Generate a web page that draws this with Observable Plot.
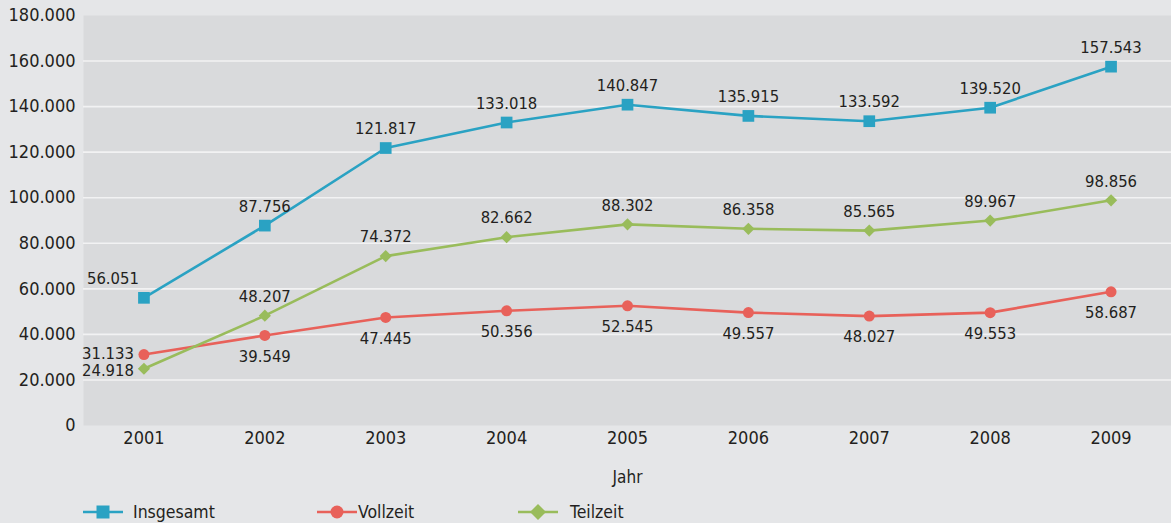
<!DOCTYPE html>
<html><head><meta charset="utf-8">
<script src="https://cdn.jsdelivr.net/npm/d3@7"></script>
<script src="https://cdn.jsdelivr.net/npm/@observablehq/plot@0.6"></script>
<style>
html,body{margin:0;padding:0;background:#e5e6e8;width:1171px;height:523px;overflow:hidden;font-family:"DejaVu Sans Condensed","Liberation Sans",sans-serif;color:#231f20;}
#legend{position:relative;height:30px;font-size:17.5px;margin-top:4px;}
#legend .item{position:absolute;top:0;height:30px;display:flex;align-items:center;}
#legend svg{display:block}
</style></head>
<body>
<div id="chart"></div>
<div id="legend"></div>
<script>
const years = ["2001","2002","2003","2004","2005","2006","2007","2008","2009"];
const insgesamt = [56051, 87756, 121817, 133018, 140847, 135915, 133592, 139520, 157543];
const vollzeit = [31133, 39549, 47445, 50356, 52545, 49557, 48027, 49553, 58687];
const teilzeit = [24918, 48207, 74372, 82662, 88302, 86358, 85565, 89967, 98856];
const seriesNames = ["Insgesamt", "Vollzeit", "Teilzeit"];
const yTicks = [0, 20000, 40000, 60000, 80000, 100000, 120000, 140000, 160000, 180000];

const colors = {Insgesamt: "#2aa2c3", Vollzeit: "#e8615a", Teilzeit: "#99bc5b"};
const symbols = {Insgesamt: "square", Vollzeit: "circle", Teilzeit: "diamond2"};
const radii = {Insgesamt: 6.6, Vollzeit: 5.5, Teilzeit: 5.5};

const de = d3.formatLocale({decimal: ",", thousands: ".", grouping: [3], currency: ["", " €"]});
const fmt = de.format(",d");

const rows = [];
const valuesBy = {Insgesamt: insgesamt, Vollzeit: vollzeit, Teilzeit: teilzeit};
for (const s of seriesNames) years.forEach((y, i) => rows.push({series: s, year: y, value: valuesBy[s][i]}));

const textColor = "#231f20";
const labelFont = 16.5;
const isFirst = d => d.year === years[0];

const marks = [
  Plot.frame({fill: "#d9dadc", stroke: null}),
  Plot.gridY(yTicks.filter(v => v > 0 && v < 180000), {stroke: "#f2f2f3", strokeOpacity: 1, strokeWidth: 1.6}),
  Plot.axisY({ticks: yTicks, tickSize: 0, tickPadding: 8, tickFormat: fmt, fontSize: 18, label: null, fill: textColor}),
  Plot.axisX({tickSize: 0, tickPadding: 6, fontSize: 18, label: null, fill: textColor}),
  Plot.text(["Jahr"], {frameAnchor: "bottom", dy: 57, fontSize: 17, fill: textColor}),
];
for (const s of seriesNames) {
  const data = rows.filter(d => d.series === s);
  marks.push(Plot.line(data, {x: "year", y: "value", stroke: colors[s], strokeWidth: 2.6}));
  marks.push(Plot.dot(data, {x: "year", y: "value", fill: colors[s], symbol: symbols[s], r: radii[s], stroke: null}));
}
// labels
const ins = rows.filter(d => d.series === "Insgesamt");
const vol = rows.filter(d => d.series === "Vollzeit");
const tei = rows.filter(d => d.series === "Teilzeit");
const lbl = {x: "year", y: "value", text: d => fmt(d.value), fontSize: labelFont, fill: textColor};
marks.push(Plot.text(ins.filter(d => !isFirst(d)), {...lbl, dy: -19}));
marks.push(Plot.text(ins.filter(isFirst), {...lbl, dy: -19, dx: -31}));
marks.push(Plot.text(vol.filter(d => !isFirst(d)), {...lbl, dy: 21}));
marks.push(Plot.text(vol.filter(isFirst), {...lbl, dx: -10, dy: -1, textAnchor: "end"}));
marks.push(Plot.text(tei.filter(d => !isFirst(d)), {...lbl, dy: -19}));
marks.push(Plot.text(tei.filter(isFirst), {...lbl, dx: -10, dy: 2, textAnchor: "end"}));

const chart = Plot.plot({
  width: 1171,
  height: 493,
  marginLeft: 83,
  marginRight: 0,
  marginTop: 15,
  marginBottom: 68,
  style: {background: "transparent", fontFamily: '"DejaVu Sans Condensed","Liberation Sans",sans-serif', color: textColor, overflow: "visible"},
  x: {type: "point", domain: years, padding: 0.5, round: false},
  y: {domain: [0, 180000]},
  marks
});
document.getElementById("chart").appendChild(chart);

// legend
const legend = document.getElementById("legend");
const legendPos = {Insgesamt: 83, Vollzeit: 317, Teilzeit: 518};
const symPaths = {
  square: 'M-6.5,-6.5H6.5V6.5H-6.5Z',
  diamond2: 'M0,-8L8,0L0,8L-8,0Z'
};
for (const s of seriesNames) {
  const item = document.createElement("div");
  item.className = "item";
  item.style.left = legendPos[s] + "px";
  const w = 40;
  let shape;
  if (symbols[s] === "circle") shape = `<circle cx="0" cy="0" r="6.5" fill="${colors[s]}"/>`;
  else shape = `<path d="${symPaths[symbols[s]]}" fill="${colors[s]}"/>`;
  item.innerHTML = `<svg width="${w}" height="20" viewBox="${-w/2} -10 ${w} 20"><line x1="${-w/2}" x2="${w/2}" y1="0" y2="0" stroke="${colors[s]}" stroke-width="2.6"/>${shape}</svg><span style="margin-left:${s === "Vollzeit" ? 1 : (s === "Teilzeit" ? 12 : 10)}px">${s}</span>`;
  legend.appendChild(item);
}
</script>
</body></html>
